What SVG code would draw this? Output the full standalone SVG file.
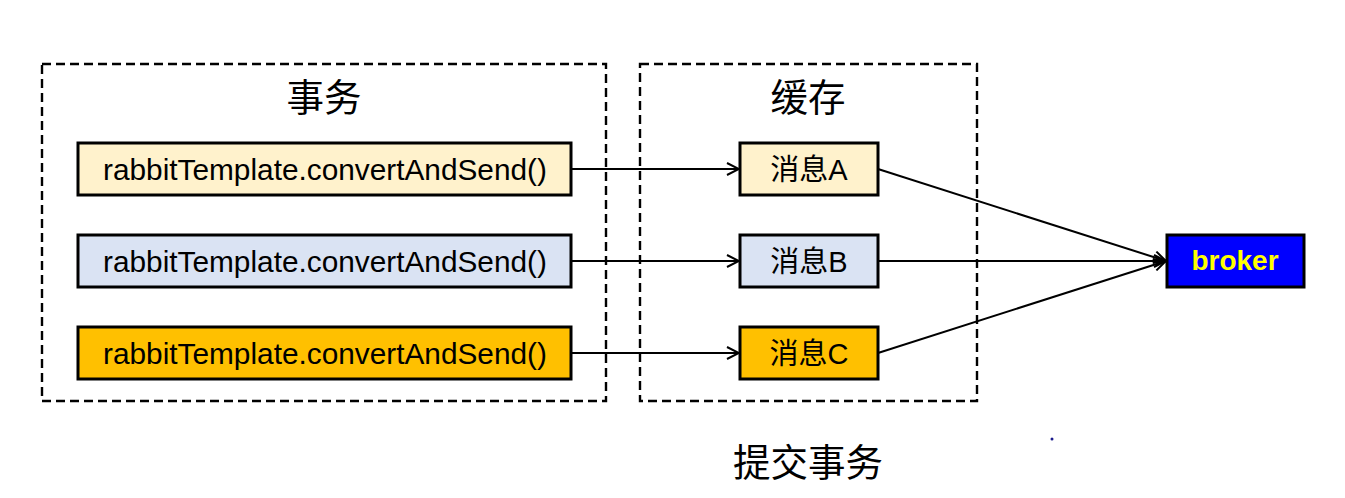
<svg xmlns="http://www.w3.org/2000/svg" width="1345" height="498" viewBox="0 0 1345 498">
<defs>
<style>
.grp{fill:none;stroke:#000;stroke-width:2.4;stroke-dasharray:9 5}
.box{stroke:#000;stroke-width:3}
.m{font-family:"Liberation Sans",Arial,sans-serif;font-size:29.8px;fill:#000;text-anchor:middle}
.c{font-family:"Liberation Sans","Noto Sans CJK SC",sans-serif;font-size:29px;fill:#000;text-anchor:middle}
.t{font-family:"Noto Sans CJK SC",sans-serif;font-size:37.5px;fill:#000;text-anchor:middle}
.ln{fill:none;stroke:#000;stroke-width:2}
</style>
<marker id="ah" viewBox="0 0 14 14" refX="13" refY="7" markerWidth="14" markerHeight="14" markerUnits="userSpaceOnUse" orient="auto">
<path d="M1,1 L13,7 L1,13" fill="none" stroke="#000" stroke-width="2"/>
</marker>
</defs>
<rect width="1345" height="498" fill="#fff"/>
<g id="tx-group">
<rect class="grp" x="42" y="64" width="564" height="337"/>
<text class="t" x="324" y="111">事务</text>
</g>
<g id="cache-group">
<rect class="grp" x="640" y="64" width="337" height="337"/>
<text class="t" x="808" y="111">缓存</text>
</g>
<g id="send1">
<rect class="box" x="78" y="143" width="493" height="52" fill="#FFF2CC"/>
<text class="m" x="325" y="180">rabbitTemplate.convertAndSend()</text>
</g>
<g id="send2">
<rect class="box" x="78" y="235" width="493" height="52" fill="#DAE3F3"/>
<text class="m" x="325" y="272">rabbitTemplate.convertAndSend()</text>
</g>
<g id="send3">
<rect class="box" x="78" y="327" width="493" height="52" fill="#FFC000"/>
<text class="m" x="325" y="364">rabbitTemplate.convertAndSend()</text>
</g>
<g id="msgA">
<rect class="box" x="740" y="143" width="138" height="52" fill="#FFF2CC"/>
<text class="c" x="809" y="180">消息A</text>
</g>
<g id="msgB">
<rect class="box" x="740" y="235" width="138" height="52" fill="#DAE3F3"/>
<text class="c" x="809" y="272">消息B</text>
</g>
<g id="msgC">
<rect class="box" x="740" y="327" width="138" height="52" fill="#FFC000"/>
<text class="c" x="809" y="364">消息C</text>
</g>
<g id="broker">
<rect class="box" x="1167" y="235" width="137" height="52" fill="#0000FF"/>
<text x="1235" y="270" font-family="'Liberation Sans',Arial,sans-serif" font-size="28px" font-weight="bold" fill="#FFFF00" text-anchor="middle">broker</text>
</g>
<g id="connectors">
<line class="ln" x1="571" y1="169" x2="739" y2="169" marker-end="url(#ah)"/>
<line class="ln" x1="571" y1="261" x2="739" y2="261" marker-end="url(#ah)"/>
<line class="ln" x1="571" y1="353" x2="739" y2="353" marker-end="url(#ah)"/>
<line class="ln" x1="878" y1="169" x2="1166" y2="261" marker-end="url(#ah)"/>
<line class="ln" x1="878" y1="261" x2="1166" y2="261" marker-end="url(#ah)"/>
<line class="ln" x1="878" y1="353" x2="1166" y2="261" marker-end="url(#ah)"/>
</g>
<g id="commit">
<text class="t" x="808" y="476" font-size="38px">提交事务</text>
</g>
<circle cx="1052" cy="439" r="1.5" fill="#1a1a8c"/>
</svg>
